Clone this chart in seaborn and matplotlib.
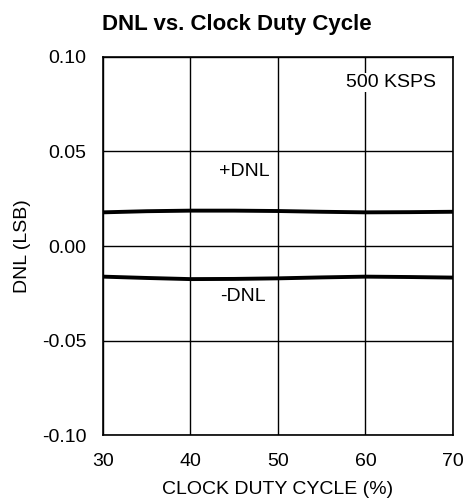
import matplotlib
matplotlib.use("Agg")
import matplotlib.pyplot as plt
import seaborn as sns
import pandas as pd

duty = [30, 35, 40, 45, 50, 55, 60, 65, 70]
pos_dnl = [0.0178, 0.0184, 0.0187, 0.0187, 0.0185, 0.0181, 0.0178, 0.0179, 0.0181]
neg_dnl = [-0.0162, -0.0169, -0.0175, -0.0174, -0.0171, -0.0166, -0.0162, -0.0164, -0.0167]

df = pd.DataFrame({"duty": duty * 2,
                   "dnl": pos_dnl + neg_dnl,
                   "series": ["+DNL"] * len(duty) + ["-DNL"] * len(duty)})

sns.set_theme(style="white")
plt.rcParams['font.family'] = ['Liberation Sans', 'DejaVu Sans']
plt.rcParams['text.color'] = 'black'
plt.rcParams['axes.labelcolor'] = 'black'

fig = plt.figure(figsize=(4.66, 4.99), dpi=100)
ax = fig.add_axes([0.221, 0.128, 0.751, 0.758])
sns.lineplot(data=df, x="duty", y="dnl", units="series", estimator=None,
             color="black", linewidth=2.8, ax=ax, legend=False)

ax.set_xlim(30, 70)
ax.set_ylim(-0.10, 0.10)
ax.set_xticks([30, 40, 50, 60, 70])
ax.set_yticks([-0.10, -0.05, 0.00, 0.05, 0.10])
ax.set_yticklabels(["-0.10", "-0.05", "0.00", "0.05", "0.10"])
ax.grid(True, color="black", linewidth=1.0)
for s in ax.spines.values():
    s.set_color("black")
    s.set_linewidth(1.2)
ax.tick_params(axis="x", labelsize=14, labelcolor="black", length=0, pad=13)
ax.tick_params(axis="y", labelsize=14, labelcolor="black", length=0, pad=12)
ax.set_xlabel("CLOCK DUTY CYCLE (%)", fontsize=14, color="black", labelpad=8)
ax.set_ylabel("DNL (LSB)", fontsize=14, color="black", labelpad=8)
fig.text(0.509, 1 - 30 / 499, "DNL vs. Clock Duty Cycle", fontsize=16,
         fontweight="bold", ha="center", va="baseline", color="black")

ax.text(62.9, 0.0865, "500 KSPS", fontsize=14, ha="center", va="center", color="black",
        bbox=dict(facecolor="white", edgecolor="none", pad=0.5))
ax.text(46.2, 0.0392, "+DNL", fontsize=14, ha="center", va="center", color="black",
        bbox=dict(facecolor="white", edgecolor="none", pad=0.5))
ax.text(46.0, -0.0265, "-DNL", fontsize=14, ha="center", va="center", color="black",
        bbox=dict(facecolor="white", edgecolor="none", pad=0.5))

fig.savefig("out.png", dpi=100)
